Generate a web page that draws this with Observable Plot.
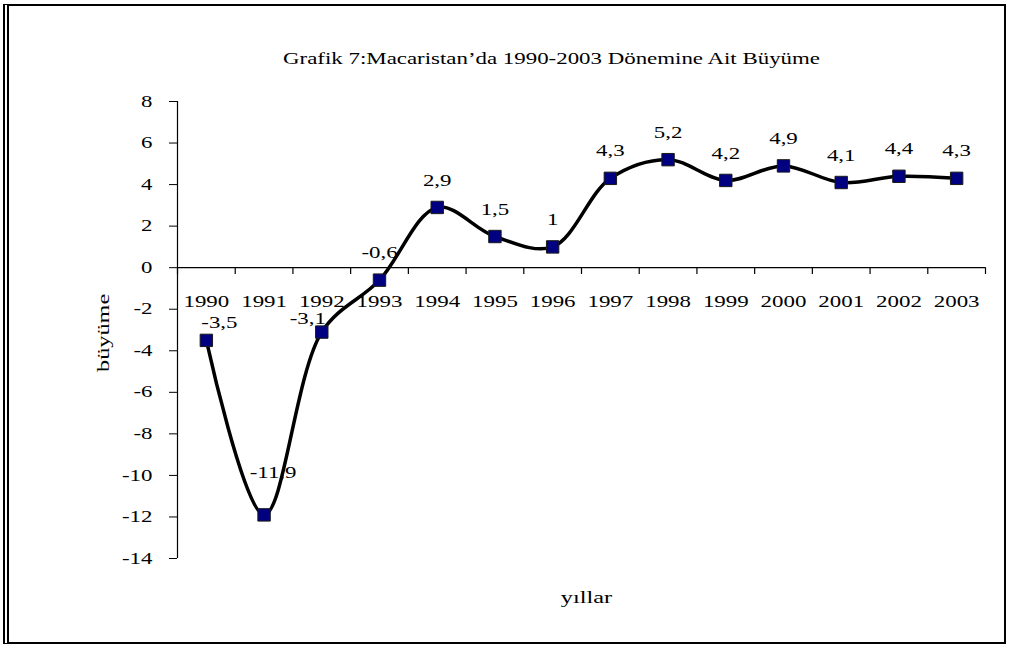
<!DOCTYPE html>
<html>
<head>
<meta charset="utf-8">
<script src="https://cdn.jsdelivr.net/npm/d3@7"></script>
<script src="https://cdn.jsdelivr.net/npm/@observablehq/plot@0.6"></script>
<style>
  html, body { margin: 0; padding: 0; background: #fff; }
  #wrap { position: relative; width: 1010px; height: 647px; overflow: hidden; }
  #frame { position: absolute; left: 3px; top: 4px; width: 1003px; height: 640px; box-sizing: border-box;
           border: 2px solid #000; border-left: 6px double #000; pointer-events: none; }
  #wrap svg, #wrap svg text { font-family: "Liberation Serif", "Times New Roman", serif !important; }
</style>
</head>
<body>
<div id="wrap"><div id="frame"></div></div>
<script>
// ---- data ----
const years = [1990, 1991, 1992, 1993, 1994, 1995, 1996, 1997, 1998, 1999, 2000, 2001, 2002, 2003];
const growth = [-3.5, -11.9, -3.1, -0.6, 2.9, 1.5, 1, 4.3, 5.2, 4.2, 4.9, 4.1, 4.4, 4.3];
const valueLabels = ["-3,5", "-11,9", "-3,1", "-0,6", "2,9", "1,5", "1", "4,3", "5,2", "4,2", "4,9", "4,1", "4,4", "4,3"];
const yTicks = [-14, -12, -10, -8, -6, -4, -2, 0, 2, 4, 6, 8];
const titleText = "Grafik 7:Macaristan’da 1990-2003 Dönemine Ait Büyüme";
const xLabel = "yıllar";
const yLabel = "büyüme";

// layout-only nudges for a few data labels (px)
const nudge = {1990: [13, -18], 1991: [9, -42], 1992: [-14, -13]};

const data = years.map((y, i) => ({year: y, value: growth[i], label: valueLabels[i]}));
const edges = d3.range(years.length + 1).map(i => years[0] - 0.5 + i);

const chart = Plot.plot({
  width: 1010,
  height: 647,
  marginLeft: 177,
  marginRight: 25,
  marginTop: 101,
  marginBottom: 89,
  style: {fontFamily: "'Liberation Serif', 'Times New Roman', serif", fontSize: "16px", color: "#000", background: "transparent"},
  x: {type: "linear", domain: [years[0] - 0.5, years[years.length - 1] + 0.5], axis: null},
  y: {domain: [-14, 8]},
  marks: [
    Plot.axisY(yTicks, {tickSize: 8, tickPadding: 17, tickFormat: d => String(d), fontSize: 16, fill: "#000", label: null}),
    Plot.ruleX([years[0] - 0.5], {stroke: "#000", strokeWidth: 1.2}),
    Plot.ruleY([0], {stroke: "#000", strokeWidth: 1.2}),
    Plot.ruleX(edges, {x: d => d, y1: 0, y2: -0.33, stroke: "#000", strokeWidth: 1.2}),
    Plot.text(years, {x: d => d, y: 0, dy: 34, text: d => String(d), fontSize: 16, fill: "#000"}),
    Plot.line(data, {x: "year", y: "value", curve: "catmull-rom", stroke: "#000", strokeWidth: 3.5}),
    Plot.dot(data, {x: "year", y: "value", symbol: "square", r: 7, fill: "#000080", stroke: "#1a1a1a", strokeWidth: 1}),
    Plot.text(data.filter(d => !nudge[d.year]), {x: "year", y: "value", text: "label", dy: -27, fontSize: 16, fill: "#000"}),
    ...Object.keys(nudge).map(k => Plot.text(data.filter(d => d.year === +k), {x: "year", y: "value", text: "label", dx: nudge[k][0], dy: nudge[k][1], fontSize: 16, fill: "#000"})),
    Plot.text([titleText], {frameAnchor: "top", dx: -30, dy: -49, fontSize: 16, fill: "#000"}),
    Plot.text([xLabel], {frameAnchor: "bottom", dx: 5, dy: 44, fontSize: 17, fill: "#000"}),
    Plot.text([yLabel], {frameAnchor: "left", dx: -74, dy: 42, rotate: -90, fontSize: 17, fill: "#000"})
  ]
});

document.getElementById("wrap").insertBefore(chart, document.getElementById("frame"));

// widen glyphs to match the reference's broad serif rendering
d3.select(chart).selectAll("text").each(function () {
  this.style.fontFamily = "'Liberation Serif', 'Times New Roman', serif";
  const len = this.getComputedTextLength();
  if (len > 0) {
    this.setAttribute("textLength", (len * 1.43).toFixed(1));
    this.setAttribute("lengthAdjust", "spacingAndGlyphs");
  }
});
</script>
</body>
</html>
